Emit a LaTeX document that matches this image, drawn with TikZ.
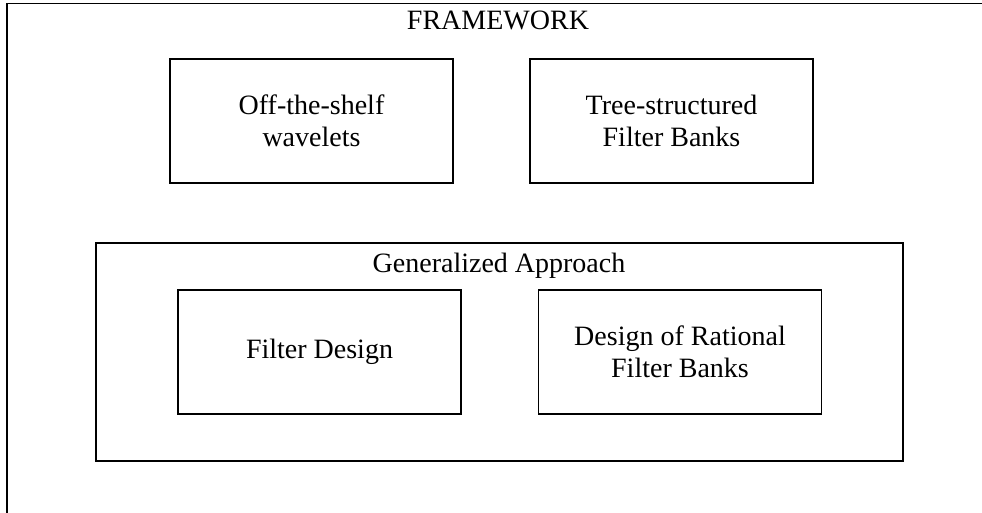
\documentclass[tikz,border=0pt]{standalone}
\usepackage{fontspec}
\setmainfont{Liberation Serif}
\begin{document}
\begin{tikzpicture}[x=1pt,y=-1pt,
  frame/.style={draw, line width=1.5pt, inner sep=0pt},
  box/.style={frame, minimum width=283pt, minimum height=124pt, align=center,
    font=\fontsize{28}{32}\selectfont},
  title/.style={anchor=base, inner sep=0pt, font=\fontsize{28}{32}\selectfont}]

\useasboundingbox (0,0) rectangle (982,513);
\clip (0,0) rectangle (982,513);

% outer frame, runs off the page at right and bottom
\node[frame, minimum width=983pt, minimum height=521pt] (framework) at (498.5,264) {};
\node[title] (frameworktitle) at (498,30) {FRAMEWORK};

% top row
\node[box] (offshelf) at (311.5,121) {Off-the-shelf\\wavelets};
\node[box] (treefb) at (671.5,121) {Tree-structured\\Filter Banks};

% generalized approach
\node[frame, minimum width=807pt, minimum height=218pt] (generalized) at (499.5,352) {};
\node[title] (generalizedtitle) at (499,272) {Generalized Approach};
\node[box] (filterdesign) at (319.5,352) {Filter Design};
\node[box] (rationalfb) at (680,352) {Design of Rational\\Filter Banks};
\end{tikzpicture}
\end{document}
